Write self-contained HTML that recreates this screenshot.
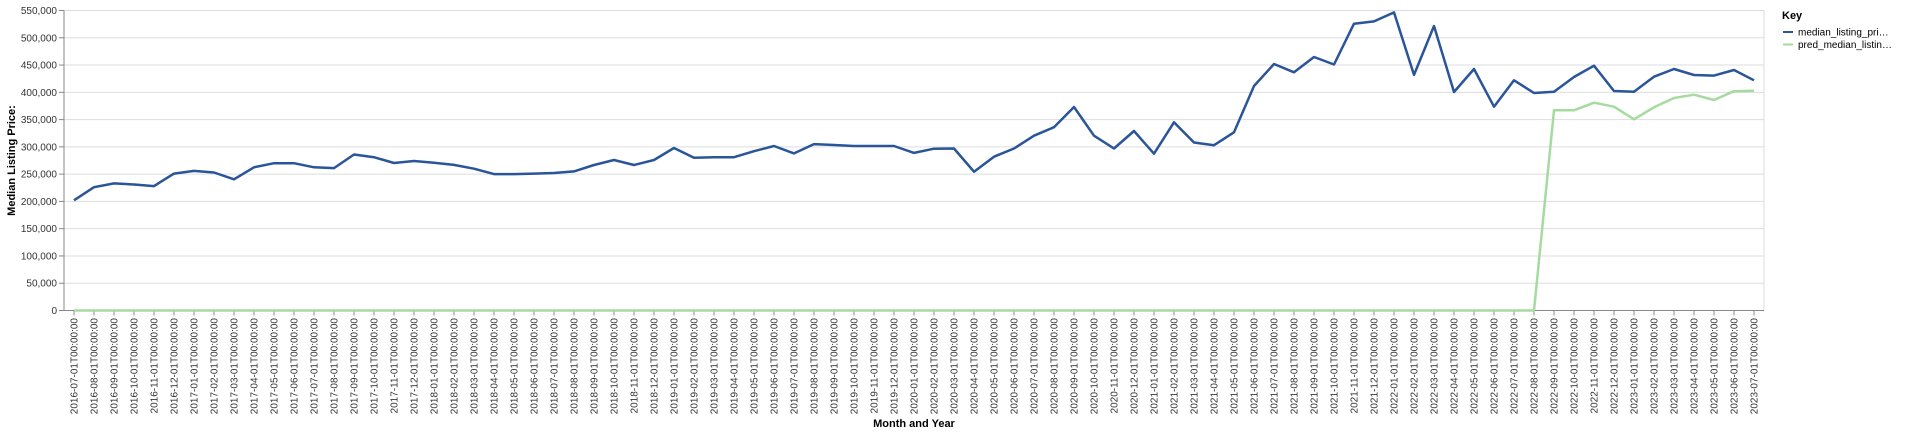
<!DOCTYPE html>
<html><head><meta charset="utf-8">
<style>
html,body{margin:0;padding:0;background:#fff;width:1920px;height:434px;overflow:hidden;font-family:"Liberation Sans",Arial,sans-serif;}
svg text{font-family:"Liberation Sans",Arial,sans-serif;}
</style></head>
<body>
<svg id="chart" width="1920" height="434" xmlns="http://www.w3.org/2000/svg"></svg>
<script>
const startYear = 2016, startMonth = 7, monthCount = 85;
const medianPrices = [202000,226000,233000,231000,228000,251000,256000,253000,240500,262500,270000,270000,262500,261000,286000,281000,270500,274000,271000,267000,260000,250000,250000,251000,252000,255000,266700,276000,266700,276000,298000,280000,281000,281000,292000,301600,288000,305000,303500,301600,301600,301600,289000,296600,297000,254500,282000,297000,320500,336000,373000,320500,297000,329000,287500,345000,308000,303000,326700,411600,452000,436700,464700,451000,525800,530000,546600,432000,521600,400600,442700,373600,422000,398800,401000,428000,448800,402400,401000,428600,442700,431800,430600,441000,422000];
const predPrices = [0,0,0,0,0,0,0,0,0,0,0,0,0,0,0,0,0,0,0,0,0,0,0,0,0,0,0,0,0,0,0,0,0,0,0,0,0,0,0,0,0,0,0,0,0,0,0,0,0,0,0,0,0,0,0,0,0,0,0,0,0,0,0,0,0,0,0,0,0,0,0,0,0,0,367000,367000,381000,373600,350500,372500,389600,395700,386000,402000,403000];
const yTicks = [0,50000,100000,150000,200000,250000,300000,350000,400000,450000,500000,550000];
const legendLabels = ["median_listing_pri…","pred_median_listin…"];

const NS="http://www.w3.org/2000/svg";
const svg=document.getElementById('chart');
const L=64,R=1764,T=10.5,B=310.5,yMax=550000;
const step=(R-L)/monthCount;
function x(i){return L+step*(i+0.5);}
function y(v){return B-(v/yMax)*(B-T);}
function el(tag,attrs,parent){const e=document.createElementNS(NS,tag);for(const k in attrs)e.setAttribute(k,attrs[k]);(parent||svg).appendChild(e);return e;}
function fmt(v){return v.toLocaleString('en-US');}
const cats=[];
for(let i=0;i<monthCount;i++){const m=startMonth-1+i;const yr=startYear+Math.floor(m/12);const mo=(m%12)+1;cats.push(yr+'-'+String(mo).padStart(2,'0')+'-01T00:00:00');}

yTicks.forEach(v=>{
  const g=el('line',{x1:L,x2:R,y1:y(v),y2:y(v),stroke:'#ddd','stroke-width':1});
  
  
  const t=el('line',{x1:L-5,x2:L,y1:y(v),y2:y(v),stroke:'#888'});
  
  
  const tx=el('text',{x:L-7,y:y(v)+3.5,'text-anchor':'end','font-size':10,fill:'#333'});
  tx.textContent=fmt(v);
  
  
});
const rb=el('line',{x1:R,x2:R,y1:T,y2:B,stroke:'#ddd'});


const ya=el('line',{x1:L,x2:L,y1:T,y2:B,stroke:'#888'});


const xa=el('line',{x1:L,x2:R,y1:B,y2:B,stroke:'#888'});



cats.forEach((c,i)=>{
  const t=el('line',{x1:x(i),x2:x(i),y1:B,y2:B+5,stroke:'#888'});
  
  
  const tx=el('text',{transform:`translate(${x(i)+3.5},${B+7.5}) rotate(-90)`,'text-anchor':'end','font-size':10,fill:'#333'});
  tx.textContent=c;
  
  
});

function linePath(vals){return vals.map((v,i)=>(i?'L':'M')+x(i).toFixed(1)+','+y(v).toFixed(1)).join('');}
const p2=el('path',{d:linePath(predPrices),fill:'none',stroke:'#a6dba0','stroke-width':2.5,'stroke-linejoin':'round'});


const p1=el('path',{d:linePath(medianPrices),fill:'none',stroke:'#2a5598','stroke-width':2.5,'stroke-linejoin':'round'});



const yt=el('text',{transform:`translate(15,${(T+B)/2}) rotate(-90)`,'text-anchor':'middle','font-size':11,'font-weight':'bold',fill:'#000'});
yt.textContent='Median Listing Price:';


const xt=el('text',{x:(L+R)/2,y:427,'text-anchor':'middle','font-size':11,'font-weight':'bold',fill:'#000'});
xt.textContent='Month and Year';



const kt=el('text',{x:1782,y:19,'font-size':11,'font-weight':'bold',fill:'#000'});
kt.textContent='Key';


const colors=['#2a5598','#a6dba0'];
legendLabels.forEach((lab,i)=>{
  const ly=32+i*12.5;
  const s=el('line',{x1:1783,x2:1793,y1:ly,y2:ly,stroke:colors[i],'stroke-width':2});
  
  
  const t=el('text',{x:1798,y:ly+3.5,'font-size':10,fill:'#000'});
  t.textContent=lab;
  
  
});
</script>
</body></html>
